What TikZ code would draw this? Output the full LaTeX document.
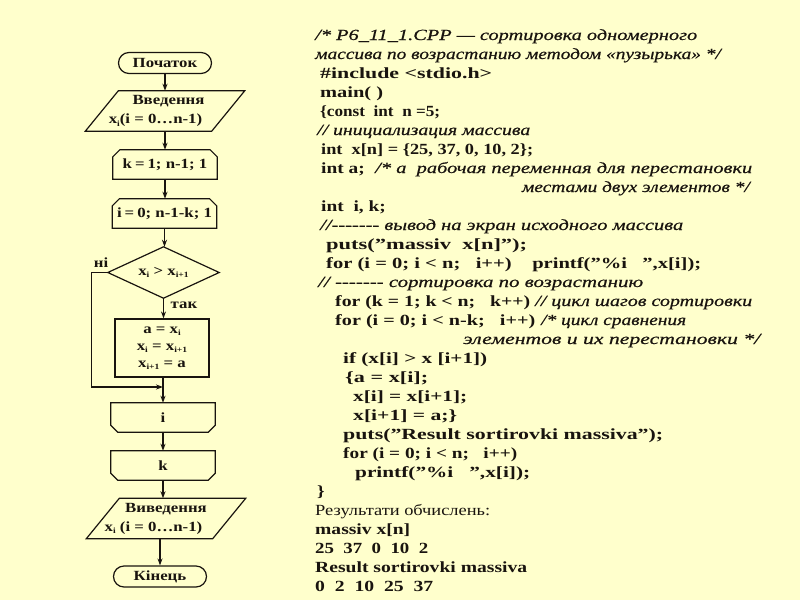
\documentclass[tikz,border=0pt]{standalone}
\usepackage{fontspec}
\usepackage{graphicx}
\usetikzlibrary{arrows.meta,calc}
\newfontfamily\codefont{Liberation Serif}[FakeStretch=1.25]
\newfontfamily\cmtfont{Liberation Serif}[FakeStretch=1.25,FakeBold=0.6]
\newfontfamily\fcfont{Liberation Serif}[FakeStretch=1.2]
\definecolor{bg}{RGB}{255,255,204}
\definecolor{ink}{RGB}{25,20,15}
\newcommand\ix[1]{\raisebox{-2.5pt}{\fontsize{8}{8}\selectfont #1}}
\newcommand\fitw[2]{\resizebox{#1pt}{\height}{#2}}
\newcommand\tsp{\hspace{3pt}}
\tikzset{
  base/.style={inner sep=0pt, text=ink},
  code/.style={base, anchor=base west, font=\codefont\fontsize{15.5}{16}\selectfont\bfseries},
  cmt/.style={base, anchor=base west, font=\cmtfont\fontsize{15.5}{16}\selectfont\itshape},
  plaintxt/.style={base, anchor=base west, font=\codefont\fontsize{15.5}{16}\selectfont},
  fc/.style={inner sep=0pt, text=ink, font=\fcfont\fontsize{14}{19}\selectfont\bfseries, align=center},
  fcbox/.style={fc, minimum width=104pt, minimum height=29pt},
  fcpara/.style={fc, minimum width=159pt, minimum height=40pt},
  fcterm/.style={fc, draw=ink, line width=1.2pt, rounded corners=10.5pt, minimum width=93pt, minimum height=21pt},
  lbl/.style={inner sep=0pt, text=ink, font=\fcfont\fontsize{14}{16}\selectfont\bfseries},
  line/.style={draw=ink, line width=1.2pt},
  arr/.style={line, -{Stealth[length=7pt,width=5pt]}},
}
\begin{document}
\begin{tikzpicture}[x=1pt,y=-1pt]
\fill[bg] (0,0) rectangle (800,600);
\useasboundingbox (0,0) rectangle (800,600);

% ---------------- flowchart ----------------
\node[fcterm] (start) at (165,63) {Початок};

\node[fcpara] (in) at (165,111) {\hspace*{7pt}Введення\\x\ix{i}(i = 0…n-1)\hspace*{19pt}};
\draw[line] ($(in.north west)+(33,0)$) -- (in.north east) -- ($(in.south east)+(-33,0)$) -- (in.south west) -- cycle;

\node[fcbox] (k1) at (165,164.5) {k\tsp=\tsp1; n-1; 1};
\draw[line] (k1.south west) -- ($(k1.north west)+(0,7)$) -- ($(k1.north west)+(7,0)$) -- ($(k1.north east)+(-7,0)$) -- ($(k1.north east)+(0,7)$) -- (k1.south east) -- cycle;

\node[fcbox] (i1) at (164.5,213.5) {i\tsp=\tsp0; n-1-k; 1};
\draw[line] (i1.south west) -- ($(i1.north west)+(0,7)$) -- ($(i1.north west)+(7,0)$) -- ($(i1.north east)+(-7,0)$) -- ($(i1.north east)+(0,7)$) -- (i1.south east) -- cycle;

\node[fc, minimum width=111pt, minimum height=51pt] (dia) at (163.5,272.5) {x\ix{i} > x\ix{i+1}};
\draw[line] (dia.north) -- (dia.east) -- (dia.south) -- (dia.west) -- cycle;

\node[fc, font=\fcfont\fontsize{14}{17}\selectfont\bfseries, minimum width=94pt, minimum height=58pt, draw=ink, line width=1.2pt] (proc) at (162,348) {a = x\ix{i}\\x\ix{i} = x\ix{i+1}\\x\ix{i+1} = a};

\node[fcbox] (i2) at (163,417.5) {i};
\draw[line] (i2.north west) -- (i2.north east) -- ($(i2.south east)+(0,-7)$) -- ($(i2.south east)+(-7,0)$) -- ($(i2.south west)+(7,0)$) -- ($(i2.south west)+(0,-7)$) -- cycle;

\node[fcbox] (k2) at (163,465.5) {k};
\draw[line] (k2.north west) -- (k2.north east) -- ($(k2.south east)+(0,-7)$) -- ($(k2.south east)+(-7,0)$) -- ($(k2.south west)+(7,0)$) -- ($(k2.south west)+(0,-7)$) -- cycle;

\node[fcpara] (out) at (166,518.5) {Виведення\\x\ix{i} (i = 0…n-1)\hspace*{25pt}};
\draw[line] ($(out.north west)+(33,0)$) -- (out.north east) -- ($(out.south east)+(-33,0)$) -- (out.south west) -- cycle;

\node[fcterm] (end) at (160,576.5) {Кінець};

\node[lbl] (no) at (101,263) {ні};
\node[lbl] (yes) at (184,305) {так};

\coordinate (jn) at (163,387);
\draw[arr] (start.south) -- (start.south |- in.north);
\draw[arr] (in.south -| k1.north) -- (k1.north);
\draw[arr] (k1.south) -- (k1.south |- i1.north);
\draw[arr] (i1.south) -- (i1.south |- dia.north);
\draw[arr] (dia.south) -- (dia.south |- proc.north);
\draw[arr] (proc.south -| i2.north) -- (i2.north);
\draw[arr] (dia.west) -- ++(-16,0) |- (jn);
\draw[arr] (i2.south) -- (i2.south |- k2.north);
\draw[arr] (k2.south) -- (k2.south |- out.north);
\draw[arr] (out.south -| end.north) -- (end.north);

% ---------------- program text ----------------
\node[cmt] (c1) at (315,40) {\fitw{382}{/* P6\_11\_1.CPP — сортировка одномерного}};
\node[cmt] (c2) at (315,59) {массива по возрастанию методом «пузырька» */};
\node[code] (c3) at (320,78) {\fitw{172}{\#include <stdio.h>}};
\node[code] (c4) at (320,97) {\fitw{63}{main( )}};
\node[code] (c5) at (320,116) {\fitw{120}{\{const~ int~ n =5;}};
\node[cmt] (c6) at (317,135) {\fitw{213}{// инициализация массива}};
\node[code] (c7) at (321,154) {\fitw{212}{int~ x[n] = \{25, 37, 0, 10, 2\};}};
\node[code] (c8) at (321,173) {int a;};
\node[cmt] (c8b) at (375,173) {\fitw{377}{/* a~ рабочая переменная для перестановки}};
\node[cmt, anchor=base east] (c9) at (750,192) {местами двух элементов */};
\node[code] (c10) at (321,211) {int~ i, k;};
\node[cmt] (c11) at (320,230) {\fitw{363}{//-{}-{}-{}-{}-{}-{}- вывод на экран исходного массива}};
\node[code] (c12) at (326,249) {\fitw{201}{puts(”massiv~ x[n]”);}};
\node[code] (c13) at (326,268) {\fitw{375}{for (i = 0; i < n;~~ i++)~~~ printf(”\%i~~ ”,x[i]);}};
\node[cmt] (c14) at (318,287) {\fitw{325}{// -{}-{}-{}-{}-{}-{}- сортировка по возрастанию}};
\node[code] (c15) at (335,306) {\fitw{195}{for (k = 1; k < n;~~ k++)}};
\node[cmt] (c15b) at (535,306) {\fitw{217}{// цикл шагов сортировки}};
\node[code] (c16) at (335,325) {\fitw{200}{for (i = 0; i < n-k;~~ i++)}};
\node[cmt] (c16b) at (541,325) {/* цикл сравнения};
\node[cmt] (c17) at (463,344) {\fitw{297}{элементов и их перестановки */}};
\node[code] (c18) at (343,363) {\fitw{144}{if (x[i] > x [i+1])}};
\node[code] (c19) at (345,382) {\fitw{83}{\{a = x[i];}};
\node[code] (c20) at (353,401) {\fitw{114}{x[i] = x[i+1];}};
\node[code] (c21) at (353,420) {\fitw{104}{x[i+1] = a;\}}};
\node[code] (c22) at (343,439) {\fitw{320}{puts(”Result sortirovki massiva”);}};
\node[code] (c23) at (343,458) {\fitw{174}{for (i = 0; i < n;~~ i++)}};
\node[code] (c24) at (355,477) {\fitw{175}{printf(”\%i~~ ”,x[i]);}};
\node[code] (c25) at (317,496) {\}};
\node[plaintxt] (c26) at (315,515) {\fitw{175}{Результати обчислень:}};
\node[code] (c27) at (315,534) {\fitw{95}{massiv x[n]}};
\node[code] (c28) at (315,553) {\fitw{113}{25~ 37~ 0~ 10~ 2}};
\node[code] (c29) at (315,572) {\fitw{212}{Result sortirovki massiva}};
\node[code] (c30) at (315,591) {\fitw{118}{0~ 2~ 10~ 25~ 37}};
\end{tikzpicture}
\end{document}
